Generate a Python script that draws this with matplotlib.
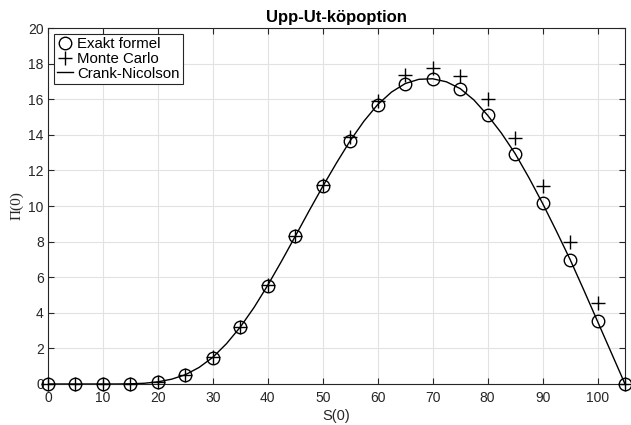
import matplotlib
matplotlib.use("Agg")
import matplotlib.pyplot as plt

# Spot prices where the option was priced
s_points = [0, 5, 10, 15, 20, 25, 30, 35, 40, 45, 50, 55, 60, 65, 70, 75, 80, 85, 90, 95, 100, 105]
exact_values = [0, 0, 0, 0, 0.1, 0.5, 1.48, 3.18, 5.52, 8.3, 11.1, 13.68, 15.68, 16.87, 17.16,
                16.58, 15.1, 12.93, 10.15, 6.96, 3.52, 0]
mc_values = [0, 0, 0, 0, 0.1, 0.52, 1.5, 3.2, 5.55, 8.33, 11.2, 13.9, 15.88, 17.35, 17.78,
             17.32, 16.0, 13.8, 11.1, 7.97, 4.55, 0]

# Crank-Nicolson grid solution
s_grid = [0, 2.5, 5, 7.5, 10, 12.5, 15, 17.5, 20, 22.5, 25, 27.5, 30, 32.5, 35, 37.5, 40, 42.5,
          45, 47.5, 50, 52.5, 55, 57.5, 60, 62.5, 65, 67.5, 70, 72.5, 75, 77.5, 80, 82.5, 85,
          87.5, 90, 92.5, 95, 97.5, 100, 102.5, 105]
cn_values = [0, 0, 0, 0, 0, 0, 0.01, 0.04, 0.12, 0.27, 0.52, 0.93, 1.5, 2.27, 3.2, 4.3, 5.55,
             6.9, 8.3, 9.72, 11.1, 12.42, 13.67, 14.77, 15.7, 16.4, 16.88, 17.12, 17.15, 16.98,
             16.6, 15.96, 15.1, 14.1, 12.95, 11.6, 10.15, 8.6, 7.0, 5.28, 3.52, 1.76, 0]

x_ticks = [0, 10, 20, 30, 40, 50, 60, 70, 80, 90, 100]
y_ticks = [0, 2, 4, 6, 8, 10, 12, 14, 16, 18, 20]

plt.rcParams['font.family'] = ['Liberation Sans', 'DejaVu Sans']
plt.rcParams['font.size'] = 10

fig = plt.figure(figsize=(6.31, 4.25), dpi=100)
ax = fig.add_axes([0.076, 0.0965, 0.9145, 0.8375])

ax.plot(s_points, exact_values, linestyle='none', marker='o', markersize=9,
        markerfacecolor='none', markeredgecolor='black', markeredgewidth=1.0,
        label='Exakt formel', clip_on=False, zorder=3)
ax.plot(s_points, mc_values, linestyle='none', marker='+', markersize=9.5,
        markeredgecolor='black', markeredgewidth=1.0,
        label='Monte Carlo', clip_on=False, zorder=3)
ax.plot(s_grid, cn_values, color='black', linewidth=1.0, label='Crank-Nicolson', zorder=2)

ax.set_xlim(0, 105)
ax.set_ylim(0, 20)
ax.set_xticks(x_ticks)
ax.set_yticks(y_ticks)
ax.tick_params(direction='in', length=4, width=0.8, top=True, right=True,
               labelsize=10, colors='#262626')
ax.tick_params(axis='x', pad=5)
ax.tick_params(axis='y', pad=3)
ax.grid(True, color='#e2e2e2', linewidth=0.8)
ax.set_axisbelow(True)
for sp in ax.spines.values():
    sp.set_color('#262626')
    sp.set_linewidth(0.8)

ax.set_title('Upp-Ut-köpoption', fontweight='bold', fontsize=12, pad=4)
ax.set_xlabel('S(0)', fontsize=10.5, color='#262626', labelpad=3)
ax.set_ylabel('Π(0)', fontsize=11, family=['Liberation Serif', 'DejaVu Serif'],
              color='#262626', labelpad=3)

leg = ax.legend(loc='upper left', fontsize=10.8, frameon=True, fancybox=False,
                edgecolor='#262626', framealpha=1, borderpad=0.2, labelspacing=0.05,
                handlelength=1.1, handletextpad=0.25, borderaxespad=0.4)
leg.get_frame().set_linewidth(0.8)

fig.savefig('out.png', dpi=100)
